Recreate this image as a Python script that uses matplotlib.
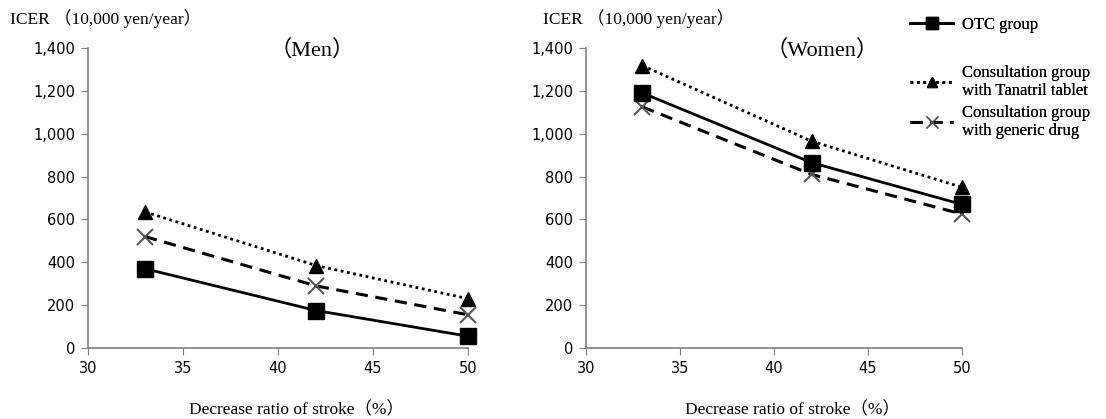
import matplotlib
matplotlib.use("Agg")
import matplotlib.pyplot as plt
from matplotlib.lines import Line2D

x_vals = [33, 42, 50]
men_otc = [370, 175, 55]
men_tanatril = [635, 385, 230]
men_generic = [520, 290, 155]
women_otc = [1190, 865, 670]
women_tanatril = [1318, 965, 750]
women_generic = [1125, 810, 625]
xticks = [30, 35, 40, 45, 50]
yticks = [0, 200, 400, 600, 800, 1000, 1200, 1400]
ytick_labels = ["0", "200", "400", "600", "800", "1,000", "1,200", "1,400"]
series_labels = ["OTC group", "Consultation group\nwith Tanatril tablet", "Consultation group\nwith generic drug"]

SERIF = ["Liberation Serif", "Noto Sans CJK JP"]
TICKF = ["DejaVu Sans"]

fig = plt.figure(figsize=(11.06, 4.19), dpi=100)
axL = fig.add_axes([88/1106, 1-348/419, 380/1106, 300/419])
axR = fig.add_axes([586/1106, 1-348/419, 376/1106, 300/419])

def style(ax):
    ax.set_xlim(30, 50)
    ax.set_ylim(0, 1400)
    ax.set_xticks(xticks)
    ax.set_yticks(yticks)
    ax.set_yticklabels(ytick_labels)
    for s in ["top", "right"]:
        ax.spines[s].set_visible(False)
    for s in ["left", "bottom"]:
        ax.spines[s].set_color("#808080")
        ax.spines[s].set_linewidth(1.2)
    ax.tick_params(direction="out", length=5, color="#808080", labelsize=10.5, pad=4)
    for lab in ax.get_xticklabels() + ax.get_yticklabels():
        lab.set_family(TICKF)
    ax.patch.set_alpha(0)

def draw(ax, otc, tan, gen):
    ax.plot(x_vals, tan, color="black", linestyle=(0, (1, 1.3)), linewidth=2, marker="^", markersize=10, clip_on=False, zorder=3)
    ax.plot(x_vals, gen, color="black", linestyle=(0, (4, 2.5)), linewidth=2.2, marker="x", markersize=11, markeredgecolor="#555555", markeredgewidth=1.5, clip_on=False, zorder=3)
    ax.plot(x_vals, otc, color="black", linestyle="-", linewidth=2, marker="s", markersize=11, clip_on=False, zorder=4)

draw(axL, men_otc, men_tanatril, men_generic)
draw(axR, women_otc, women_tanatril, women_generic)
style(axL)
style(axR)

fig.text(10/1106, 1-19/419, "ICER （10,000 yen/year）", family=SERIF, fontsize=12.5, va="center", ha="left")
fig.text(543/1106, 1-19/419, "ICER （10,000 yen/year）", family=SERIF, fontsize=12.5, va="center", ha="left")
fig.text(312/1106, 1-50/419, "（Men）", family=SERIF, fontsize=16, va="center", ha="center")
fig.text(822/1106, 1-50/419, "（Women）", family=SERIF, fontsize=16, va="center", ha="center")
fig.text(296/1106, 1-410/419, "Decrease ratio of stroke（%）", family=SERIF, fontsize=12.5, va="center", ha="center")
fig.text(792/1106, 1-410/419, "Decrease ratio of stroke（%）", family=SERIF, fontsize=12.5, va="center", ha="center")

handles = [
    Line2D([], [], color="black", linestyle="-", linewidth=2, marker="s", markersize=8),
    Line2D([], [], color="black", linestyle=(0, (1, 1.3)), linewidth=2, marker="^", markersize=7),
    Line2D([], [], color="black", linestyle=(0, (4, 2.5)), linewidth=2.2, marker="x", markersize=8, markeredgecolor="#555555"),
]
leg_y = [25, 82, 122]
for h, lab, yy in zip(handles, series_labels, leg_y):
    lg = fig.legend([h], [lab], loc="center left", bbox_to_anchor=(910/1106, 1-yy/419),
                    frameon=False, handlelength=2.6, handletextpad=0.5, borderpad=0, borderaxespad=0,
                    prop={"family": "Liberation Serif", "size": 12})
    fig.add_artist(lg)

fig.savefig("out.png", dpi=100)
